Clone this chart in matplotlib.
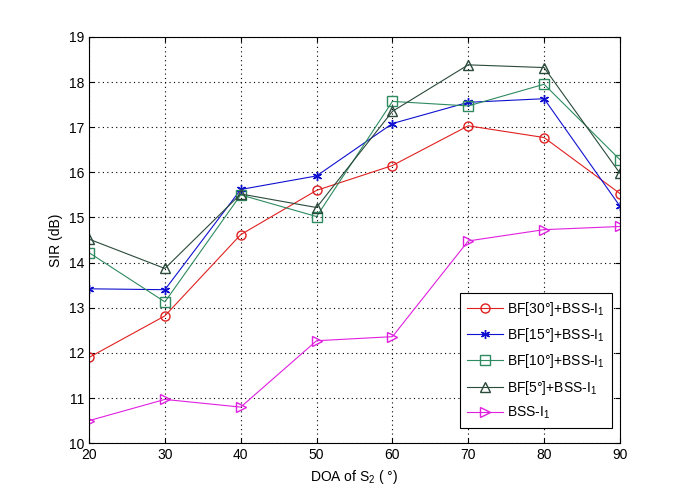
import matplotlib
matplotlib.use("Agg")
from matplotlib import pyplot as plt

plt.rcParams['font.family'] = ['Liberation Sans', 'DejaVu Sans']
plt.rcParams['mathtext.fontset'] = 'custom'
plt.rcParams['mathtext.rm'] = 'Liberation Sans'
plt.rcParams['mathtext.it'] = 'Liberation Sans'

doa = [20, 30, 40, 50, 60, 70, 80, 90]

bf30 = [11.90, 12.82, 14.62, 15.60, 16.15, 17.03, 16.77, 15.53]
bf15 = [13.42, 13.40, 15.62, 15.92, 17.08, 17.55, 17.63, 15.25]
bf10 = [14.22, 13.13, 15.50, 15.02, 17.57, 17.47, 17.95, 16.28]
bf5 = [14.52, 13.87, 15.52, 15.22, 17.35, 18.38, 18.32, 15.98]
bss = [10.50, 10.97, 10.80, 12.27, 12.36, 14.48, 14.73, 14.80]

labels = ['BF[30°]+BSS-I$_1$', 'BF[15°]+BSS-I$_1$', 'BF[10°]+BSS-I$_1$',
          'BF[5°]+BSS-I$_1$', 'BSS-I$_1$']

fig = plt.figure(figsize=(6.85, 4.98), dpi=100)
ax = fig.add_axes([0.13, 0.11, 0.775, 0.816])

lw = 0.8
ms = 6.5
ax.plot(doa, bf30, color='#e02020', marker='o', mfc='none', ms=ms, lw=lw, label=labels[0])
ax.plot(doa, bf15, color='#1010d0', marker=(6, 2, 0), mfc='none', ms=ms, lw=lw, mew=1.0,
        label=labels[1])
ax.plot(doa, bf10, color='#2e8b60', marker='s', mfc='none', ms=ms, lw=lw, label=labels[2])
ax.plot(doa, bf5, color='#2a4a3a', marker='^', mfc='none', ms=ms, lw=lw, label=labels[3])
ax.plot(doa, bss, color='#e020e0', marker='>', mfc='none', ms=ms, lw=lw, label=labels[4])

ax.set_xlim(20, 90)
ax.set_ylim(10, 19)
ax.set_xticks(doa)
ax.set_yticks(range(10, 20))
ax.grid(True, linestyle=(0, (1, 3)), color='black', linewidth=0.8)
ax.tick_params(direction='in', top=True, right=True, labelsize=10)
for s in ax.spines.values():
    s.set_linewidth(0.8)

ax.set_xlabel('DOA of S$_2$ ( °)', fontsize=10)
ax.set_ylabel('SIR (dB)', fontsize=10)

leg = ax.legend(loc='lower right', bbox_to_anchor=(0.985, 0.037), fontsize=10,
                fancybox=False, edgecolor='black', framealpha=1,
                handlelength=2.6, handletextpad=0.3, borderpad=0.5,
                labelspacing=0.6, borderaxespad=0)
leg.get_frame().set_linewidth(0.8)

fig.savefig('out.png', dpi=100)
